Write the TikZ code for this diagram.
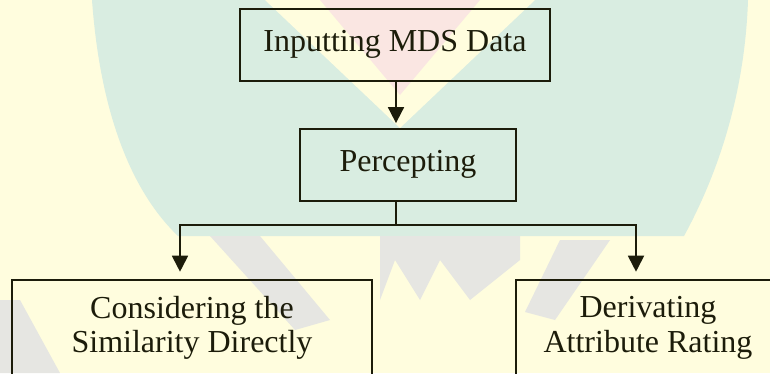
\documentclass[tikz,border=0pt]{standalone}
\usepackage{fontspec}
\setmainfont{Liberation Serif}
\usetikzlibrary{arrows.meta}
\definecolor{bgyellow}{RGB}{255,253,222}
\definecolor{bggreen}{RGB}{217,237,225}
\definecolor{bgpink}{RGB}{250,230,226}
\definecolor{bggray}{RGB}{230,230,226}
\definecolor{ink}{RGB}{28,28,10}
\begin{document}
\begin{tikzpicture}[x=1pt,y=-1pt,
  box/.style={draw=ink, line width=1.8pt, text=ink, align=center, inner sep=0pt,
    font=\fontsize{32}{34.7}\selectfont},
  link/.style={draw=ink, line width=1.8pt, line join=miter},
  arr/.style={link, -{Triangle[width=16pt,length=16pt]}}]
\useasboundingbox (0,0) rectangle (770,373);
% watermark-like background
\fill[bgyellow] (0,0) rectangle (770,373);
\fill[bggreen] (92,0) .. controls (100,110) and (130,190) .. (178,236)
  -- (684,236) .. controls (720,170) and (745,90) .. (748,0) -- cycle;
\fill[bgyellow] (265,0) -- (400,128) -- (535,0) -- cycle;
\fill[bgpink] (320,0) -- (400,95) -- (480,0) -- cycle;
\fill[bggray] (380,236) -- (520,236) -- (520,260) -- (470,300) -- (440,260) -- (420,300) -- (395,260) -- (380,300) -- cycle;
\fill[bggray] (0,300) -- (20,300) -- (60,373) -- (0,373) -- cycle;
\fill[bggray] (210,236) -- (260,236) -- (330,320) -- (295,330) -- cycle;
\fill[bggray] (560,240) -- (610,240) -- (555,320) -- (525,312) -- cycle;
% diagram
\node[box, minimum width=310pt, minimum height=72pt] (inp) at (395,44.7) {Inputting MDS Data};
\node[box, minimum width=216pt, minimum height=72pt] (perc) at (408,164.7) {Percepting};
\node[box, minimum width=360pt, minimum height=96pt, anchor=north] (cons) at (192,279) {Considering the\\Similarity Directly};
\node[box, minimum width=264pt, minimum height=96pt, anchor=north] (deri) at (648,279) {Derivating\\Attribute Rating};
\coordinate (j) at (396,224.7);
\coordinate (jl) at (180,224.7);
\coordinate (jr) at (636,224.7);
\draw[arr, shorten >=4.7pt] (inp.south -| j) -- (perc.north -| j);
\draw[link] (perc.south -| j) -- (j);
\draw[arr, shorten >=7.3pt] (j) -| (jl |- cons.north);
\draw[arr, shorten >=7.3pt] (j) -| (jr |- deri.north);
\end{tikzpicture}
\end{document}
